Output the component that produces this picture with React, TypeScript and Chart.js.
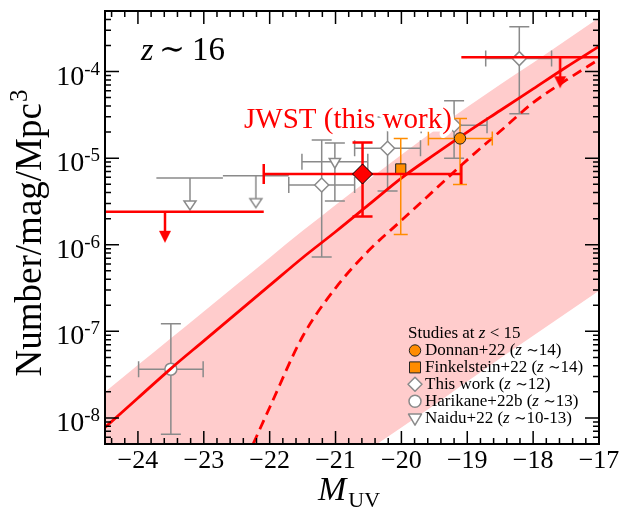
import React, { useEffect, useRef } from 'react';
import { Chart, registerables } from 'chart.js';
Chart.register(...registerables);

// ---------------- data ----------------
const X_MIN = -24.5;
const X_MAX = -17;
const Y_MIN = 5e-9;
const Y_MAX = 5e-4;

const xTickValues = [-24, -23, -22, -21, -20, -19, -18, -17];
const xTickLabels = ['−24', '−23', '−22', '−21', '−20', '−19', '−18', '−17'];
const yTickExponents = [-8, -7, -6, -5, -4];
const yTickLabels = ['-8', '-7', '-6', '-5', '-4'];

// best-fit function (solid), log10(phi)
const fitM = [-24.5, -24, -23.5, -23, -22.5, -22, -21.5, -21, -20.5, -20, -19.5, -19, -18.5, -18, -17.5, -17];
const fitLogPhi = [-8.11, -7.77, -7.43, -7.11, -6.79, -6.47, -6.15, -5.85, -5.54, -5.23, -4.96, -4.70, -4.45, -4.20, -3.95, -3.71];

// dashed function, log10(phi)
const dashM = [-22.25, -22, -21.5, -21, -20.5, -20, -19.5, -19, -18.5, -18, -17.5, -17];
const dashLogPhi = [-8.30, -7.88, -7.06, -6.50, -6.07, -5.72, -5.37, -5.02, -4.69, -4.36, -4.10, -3.86];

// shaded range, log10(phi)
const bandM = [-24.5, -24, -23.5, -23, -22.5, -22, -21.5, -21, -20.5, -20, -19.5, -19, -18.5, -18, -17.5, -17];
const bandUpperLog = [-7.70, -7.39, -7.08, -6.77, -6.46, -6.15, -5.84, -5.54, -5.25, -4.96, -4.68, -4.41, -4.15, -3.90, -3.64, -3.38];
const bandLowerLog = [-10.53, -10.26, -9.99, -9.72, -9.45, -9.18, -8.91, -8.64, -8.37, -8.11, -7.85, -7.58, -7.31, -7.05, -6.79, -6.53];

// JWST (this work) z~16
const jwstM = [-20.59];
const jwstPhi = [6.55e-6];
const jwstPhiLo = [2.12e-6];
const jwstPhiHi = [1.52e-5];
const jwstMLo = [-22.09];
const jwstMHi = [-19.09];
// JWST upper limits
const jwstUlM = [-23.59, -17.59];
const jwstUlPhi = [2.4e-6, 1.46e-4];
const jwstUlMLo = [-25.09, -19.09];
const jwstUlMHi = [-22.09, -16.09];

// Donnan+22 (z~14)
const donnanM = [-19.11];
const donnanPhi = [1.69e-5];
const donnanPhiLo = [4.95e-6];
const donnanPhiHi = [2.86e-5];
const donnanMLo = [-19.59];
const donnanMHi = [-18.62];

// Finkelstein+22 (z~14)
const finkM = [-20.01];
const finkPhi = [7.5e-6];
const finkPhiLo = [1.31e-6];
const finkPhiHi = [1.69e-5];

// This work (z~12)
const twM = [-21.21, -20.21, -19.2, -18.21];
const twPhi = [4.9e-6, 1.3e-5, 2.4e-5, 1.41e-4];
const twPhiLo = [7.2e-7, 4.16e-6, 1.0e-5, 3.26e-5];
const twPhiHi = [1.62e-5, 2.98e-5, 4.6e-5, 3.3e-4];
const twMLo = [-21.71, -20.71, -19.7, -18.72];
const twMHi = [-20.71, -19.71, -18.7, -17.72];

// Harikane+22b (z~13)
const harM = [-23.5];
const harPhi = [3.66e-8];
const harPhiLo = [6.5e-9];
const harPhiHi = [1.22e-7];
const harMLo = [-23.99];
const harMHi = [-23.01];

// Naidu+22 (z~10-13)
const naiM = [-21.01];
const naiPhi = [9.1e-6];
const naiPhiLo = [3.2e-6];
const naiPhiHi = [1.5e-5];
const naiMLo = [-21.51];
const naiMHi = [-20.51];
const naiUlM = [-23.21, -22.21];
const naiUlPhi = [5.9e-6, 6.27e-6];
const naiUlMLo = [-23.72, -22.71];
const naiUlMHi = [-22.71, -21.71];

// ---------------- styles ----------------
const SERIF = '"Liberation Serif", "Times New Roman", serif';
const MATH = '"DejaVu Serif", serif';
const RED = '#ff0000';
const GRAY = '#8a8a8a';
const ORANGE = '#ff8c00';
const PINK = '#ffcccc';

const logPts = (xs: number[], ls: number[]) => xs.map((x, i) => ({ x, y: Math.pow(10, ls[i]) }));

function errPts(xs: number[], ys: number[], lo?: number[], hi?: number[], xlo?: number[], xhi?: number[]) {
  return xs.map((x, i) => ({
    x,
    y: ys[i],
    yMin: lo ? lo[i] : undefined,
    yMax: hi ? hi[i] : undefined,
    xMin: xlo ? xlo[i] : undefined,
    xMax: xhi ? xhi[i] : undefined,
  }));
}

function arrowImage(kind: 'red' | 'gray'): HTMLCanvasElement {
  const c = document.createElement('canvas');
  if (kind === 'red') {
    const len = 31;
    c.width = 14;
    c.height = 2 * len + 2;
    const ctx = c.getContext('2d')!;
    const cx = 7;
    const y0 = len + 1;
    ctx.strokeStyle = RED;
    ctx.lineWidth = 2.5;
    ctx.beginPath();
    ctx.moveTo(cx, y0);
    ctx.lineTo(cx, y0 + len - 10);
    ctx.stroke();
    ctx.fillStyle = RED;
    ctx.beginPath();
    ctx.moveTo(cx - 6, y0 + len - 12);
    ctx.lineTo(cx + 6, y0 + len - 12);
    ctx.lineTo(cx, y0 + len);
    ctx.closePath();
    ctx.fill();
  } else {
    const len = 33;
    c.width = 16;
    c.height = 2 * len + 2;
    const ctx = c.getContext('2d')!;
    const cx = 8;
    const y0 = len + 1;
    ctx.strokeStyle = GRAY;
    ctx.lineWidth = 1.5;
    ctx.beginPath();
    ctx.moveTo(cx, y0);
    ctx.lineTo(cx, y0 + 23);
    ctx.stroke();
    ctx.fillStyle = '#fff';
    ctx.beginPath();
    ctx.moveTo(cx - 6, y0 + 23);
    ctx.lineTo(cx + 6, y0 + 23);
    ctx.lineTo(cx, y0 + len - 1);
    ctx.closePath();
    ctx.fill();
    ctx.stroke();
  }
  return c;
}

const errorBarPlugin = {
  id: 'errorBars',
  beforeDatasetDraw(chart: any, args: any) {
    const ds: any = chart.data.datasets[args.index];
    const eb = ds.errorBar;
    if (!eb) return;
    const { ctx, chartArea: a, scales } = chart;
    const xs = scales.x;
    const ys = scales.y;
    ctx.save();
    ctx.beginPath();
    ctx.rect(a.left, a.top, a.right - a.left, a.bottom - a.top);
    ctx.clip();
    ctx.strokeStyle = eb.color;
    ctx.lineWidth = eb.width;
    ctx.lineCap = 'butt';
    for (const p of ds.data) {
      const px = xs.getPixelForValue(p.x);
      const py = ys.getPixelForValue(p.y);
      ctx.beginPath();
      if (p.yMin != null && p.yMax != null) {
        const y1 = ys.getPixelForValue(p.yMin);
        const y2 = ys.getPixelForValue(p.yMax);
        ctx.moveTo(px, y1);
        ctx.lineTo(px, y2);
        if (eb.capV) {
          ctx.moveTo(px - eb.capV, y1);
          ctx.lineTo(px + eb.capV, y1);
          ctx.moveTo(px - eb.capV, y2);
          ctx.lineTo(px + eb.capV, y2);
        }
      }
      if (p.xMin != null && p.xMax != null) {
        const x1 = xs.getPixelForValue(p.xMin);
        const x2 = xs.getPixelForValue(p.xMax);
        ctx.moveTo(x1, py);
        ctx.lineTo(x2, py);
        if (eb.capH) {
          ctx.moveTo(x1, py - eb.capH);
          ctx.lineTo(x1, py + eb.capH);
          ctx.moveTo(x2, py - eb.capH);
          ctx.lineTo(x2, py + eb.capH);
        }
      }
      ctx.stroke();
    }
    ctx.restore();
  },
};

function runs(ctx: CanvasRenderingContext2D, x: number, y: number, parts: [string, string][]) {
  for (const [t, f] of parts) {
    ctx.font = f;
    ctx.fillText(t, x, y);
    x += ctx.measureText(t).width;
  }
  return x;
}

type LegendItem = { name: string; z: string; marker: string };
const legendItems: LegendItem[] = [
  { name: 'Donnan+22', z: '14', marker: 'orangeCircle' },
  { name: 'Finkelstein+22', z: '14', marker: 'orangeSquare' },
  { name: 'This work', z: '12', marker: 'grayDiamond' },
  { name: 'Harikane+22b', z: '13', marker: 'grayCircle' },
  { name: 'Naidu+22', z: '10-13', marker: 'grayTriangle' },
];

function legendMarker(ctx: CanvasRenderingContext2D, kind: string, x: number, y: number) {
  ctx.save();
  ctx.beginPath();
  if (kind === 'orangeCircle') {
    ctx.arc(x, y, 5.7, 0, Math.PI * 2);
    ctx.fillStyle = ORANGE;
    ctx.strokeStyle = '#222';
    ctx.lineWidth = 1;
  } else if (kind === 'orangeSquare') {
    ctx.rect(x - 5.5, y - 5.5, 11, 11);
    ctx.fillStyle = ORANGE;
    ctx.strokeStyle = '#222';
    ctx.lineWidth = 1;
  } else if (kind === 'grayDiamond') {
    ctx.moveTo(x - 7, y);
    ctx.lineTo(x, y - 7);
    ctx.lineTo(x + 7, y);
    ctx.lineTo(x, y + 7);
    ctx.closePath();
    ctx.fillStyle = '#fff';
    ctx.strokeStyle = GRAY;
    ctx.lineWidth = 1.5;
  } else if (kind === 'grayCircle') {
    ctx.arc(x, y, 6, 0, Math.PI * 2);
    ctx.fillStyle = '#fff';
    ctx.strokeStyle = GRAY;
    ctx.lineWidth = 1.5;
  } else {
    ctx.moveTo(x - 6.5, y - 4);
    ctx.lineTo(x + 6.5, y - 4);
    ctx.lineTo(x, y + 7);
    ctx.closePath();
    ctx.fillStyle = '#fff';
    ctx.strokeStyle = GRAY;
    ctx.lineWidth = 1.5;
  }
  ctx.fill();
  ctx.stroke();
  ctx.restore();
}

const decorPlugin = {
  id: 'decor',
  afterDatasetsDraw(chart: any) {
    const { ctx, chartArea: a, scales } = chart;
    const xs = scales.x;
    const ys = scales.y;
    ctx.save();

    // frame
    ctx.strokeStyle = '#000';
    ctx.lineWidth = 2;
    ctx.strokeRect(a.left, a.top, a.right - a.left, a.bottom - a.top);

    // ticks (inward, all four sides)
    ctx.lineWidth = 1.5;
    ctx.beginPath();
    for (let k = -122; k <= -85; k++) {
      const px = xs.getPixelForValue(k / 5);
      const L = k % 5 === 0 ? 13 : 6;
      ctx.moveTo(px, a.bottom);
      ctx.lineTo(px, a.bottom - L);
      ctx.moveTo(px, a.top);
      ctx.lineTo(px, a.top + L);
    }
    for (let e = -9; e <= -4; e++) {
      for (let m = 1; m <= 9; m++) {
        const v = m * Math.pow(10, e);
        if (v < Y_MIN * 0.999 || v > Y_MAX * 1.001) continue;
        const py = ys.getPixelForValue(v);
        const L = m === 1 ? 14 : 6;
        ctx.moveTo(a.left, py);
        ctx.lineTo(a.left + L, py);
        ctx.moveTo(a.right, py);
        ctx.lineTo(a.right - L, py);
      }
    }
    ctx.stroke();

    // x tick labels
    ctx.fillStyle = '#000';
    ctx.textAlign = 'center';
    ctx.textBaseline = 'alphabetic';
    ctx.font = `26px ${SERIF}`;
    xTickValues.forEach((v, i) => {
      ctx.fillText(xTickLabels[i], xs.getPixelForValue(v), a.bottom + 24);
    });

    // y tick labels 10^n
    ctx.textAlign = 'left';
    yTickExponents.forEach((e, i) => {
      const py = ys.getPixelForValue(Math.pow(10, e));
      ctx.font = `28px ${SERIF}`;
      const w10 = ctx.measureText('10').width;
      ctx.font = `19px ${SERIF}`;
      const wSup = ctx.measureText(yTickLabels[i]).width;
      const x0 = 100 - w10 - wSup;
      ctx.font = `28px ${SERIF}`;
      ctx.fillText('10', x0, py + 13);
      ctx.font = `19px ${SERIF}`;
      ctx.fillText(yTickLabels[i], x0 + w10, py + 3);
    });

    // y axis title
    ctx.save();
    ctx.translate(41, (a.top + a.bottom) / 2 + 6);
    ctx.rotate(-Math.PI / 2);
    ctx.font = `37px ${SERIF}`;
    const tMain = 'Number/mag/Mpc';
    const wMain = ctx.measureText(tMain).width;
    ctx.font = `25px ${SERIF}`;
    const wSup3 = ctx.measureText('3').width;
    const sx = -(wMain + wSup3) / 2;
    ctx.font = `37px ${SERIF}`;
    ctx.fillText(tMain, sx, 0);
    ctx.font = `25px ${SERIF}`;
    ctx.fillText('3', sx + wMain + 1, -14);
    ctx.restore();

    // x axis title M_UV
    ctx.font = `italic 34px ${SERIF}`;
    ctx.fillText('M', 318, 500);
    const wM = ctx.measureText('M').width;
    ctx.font = `22px ${SERIF}`;
    ctx.fillText('UV', 318 + wM + 2, 507);

    // z ~ 16
    ctx.font = `italic 32px ${SERIF}`;
    ctx.fillText('z', 141, 60);
    ctx.font = `31px ${MATH}`;
    ctx.fillText('∼', 159, 59);
    ctx.font = `33px ${SERIF}`;
    ctx.fillText('16', 192, 60);

    // JWST (this work) label with white halo
    ctx.font = `29px ${SERIF}`;
    ctx.lineJoin = 'round';
    ctx.strokeStyle = '#fff';
    ctx.lineWidth = 7;
    ctx.strokeText('JWST (this work)', 244, 128);
    ctx.fillStyle = RED;
    ctx.fillText('JWST (this work)', 244, 128);

    // legend
    ctx.fillStyle = '#000';
    const F = `17px ${SERIF}`;
    const FI = `italic 17px ${SERIF}`;
    const FM = `15px ${MATH}`;
    runs(ctx, 408, 338, [['Studies at ', F], ['z', FI], [' < ', F], ['15', F]]);
    legendItems.forEach((it, i) => {
      const by = 355 + i * 16.9;
      legendMarker(ctx, it.marker, 415, by - 4.5);
      ctx.fillStyle = '#000';
      runs(ctx, 425, by, [[it.name + ' (', F], ['z', FI], [' ', F], ['∼', FM], [it.z + ')', F]]);
    });

    ctx.restore();
  },
};

export default function App() {
  const ref = useRef<HTMLCanvasElement>(null);
  useEffect(() => {
    const redArrow = arrowImage('red');
    const grayArrow = arrowImage('gray');
    const chart = new Chart(ref.current!, {
      type: 'line',
      data: {
        datasets: [
          {
            label: 'band upper',
            data: logPts(bandM, bandUpperLog),
            borderColor: 'transparent',
            borderWidth: 0,
            pointRadius: 0,
            fill: '+1',
            backgroundColor: PINK,
            cubicInterpolationMode: 'monotone',
            order: 100,
          },
          {
            label: 'band lower',
            data: logPts(bandM, bandLowerLog),
            borderColor: 'transparent',
            borderWidth: 0,
            pointRadius: 0,
            fill: false,
            cubicInterpolationMode: 'monotone',
            order: 99,
          },
          {
            label: 'Naidu+22 limits',
            data: errPts(naiUlM, naiUlPhi, undefined, undefined, naiUlMLo, naiUlMHi),
            showLine: false,
            pointStyle: grayArrow,
            pointRadius: 1,
            errorBar: { color: GRAY, width: 1.5, capV: 0, capH: 0 },
            order: 60,
          } as any,
          {
            label: 'Harikane+22b',
            data: errPts(harM, harPhi, harPhiLo, harPhiHi, harMLo, harMHi),
            showLine: false,
            pointStyle: 'circle',
            pointRadius: 6,
            pointBackgroundColor: '#fff',
            pointBorderColor: GRAY,
            pointBorderWidth: 1.5,
            errorBar: { color: GRAY, width: 1.5, capV: 10, capH: 8 },
            order: 59,
          } as any,
          {
            label: 'This work z~12',
            data: errPts(twM, twPhi, twPhiLo, twPhiHi, twMLo, twMHi),
            showLine: false,
            pointStyle: 'rectRot',
            pointRadius: 7,
            pointBackgroundColor: '#fff',
            pointBorderColor: GRAY,
            pointBorderWidth: 1.5,
            errorBar: { color: GRAY, width: 1.5, capV: 10, capH: 8 },
            order: 58,
          } as any,
          {
            label: 'Naidu+22',
            data: errPts(naiM, naiPhi, naiPhiLo, naiPhiHi, naiMLo, naiMHi),
            showLine: false,
            pointStyle: 'triangle',
            rotation: 180,
            pointRadius: 6.5,
            pointBackgroundColor: '#fff',
            pointBorderColor: GRAY,
            pointBorderWidth: 1.5,
            errorBar: { color: GRAY, width: 1.5, capV: 10, capH: 8 },
            order: 57,
          } as any,
          {
            label: 'fit',
            data: logPts(fitM, fitLogPhi),
            borderColor: RED,
            borderWidth: 2.8,
            pointRadius: 0,
            fill: false,
            cubicInterpolationMode: 'monotone',
            order: 40,
          },
          {
            label: 'fit dashed',
            data: logPts(dashM, dashLogPhi),
            borderColor: RED,
            borderWidth: 2.8,
            borderDash: [10, 6],
            pointRadius: 0,
            fill: false,
            cubicInterpolationMode: 'monotone',
            order: 39,
          },
          {
            label: 'Finkelstein+22',
            data: errPts(finkM, finkPhi, finkPhiLo, finkPhiHi),
            showLine: false,
            pointStyle: 'rect',
            pointRadius: 7.2,
            pointBackgroundColor: ORANGE,
            pointBorderColor: '#222',
            pointBorderWidth: 1,
            errorBar: { color: ORANGE, width: 1.5, capV: 7, capH: 7 },
            order: 30,
          } as any,
          {
            label: 'Donnan+22',
            data: errPts(donnanM, donnanPhi, donnanPhiLo, donnanPhiHi, donnanMLo, donnanMHi),
            showLine: false,
            pointStyle: 'circle',
            pointRadius: 5.7,
            pointBackgroundColor: ORANGE,
            pointBorderColor: '#222',
            pointBorderWidth: 1,
            errorBar: { color: ORANGE, width: 1.5, capV: 7, capH: 7 },
            order: 29,
          } as any,
          {
            label: 'JWST limits',
            data: errPts(jwstUlM, jwstUlPhi, undefined, undefined, jwstUlMLo, jwstUlMHi),
            showLine: false,
            pointStyle: redArrow,
            pointRadius: 1,
            errorBar: { color: RED, width: 2.5, capV: 0, capH: 0 },
            order: 20,
          } as any,
          {
            label: 'JWST (this work)',
            data: errPts(jwstM, jwstPhi, jwstPhiLo, jwstPhiHi, jwstMLo, jwstMHi),
            showLine: false,
            pointStyle: 'rectRot',
            pointRadius: 10,
            pointBackgroundColor: RED,
            pointBorderColor: '#000',
            pointBorderWidth: 1,
            errorBar: { color: RED, width: 2.5, capV: 10, capH: 10 },
            order: 19,
          } as any,
        ],
      },
      options: {
        responsive: false,
        animation: false,
        devicePixelRatio: 1,
        events: [],
        layout: { padding: { left: 105, right: 23, top: 6, bottom: 64 } },
        scales: {
          x: { type: 'linear', min: X_MIN, max: X_MAX, display: false },
          y: { type: 'logarithmic', min: Y_MIN, max: Y_MAX, display: false },
        },
        plugins: {
          legend: { display: false },
          tooltip: { enabled: false },
          filler: { drawTime: 'beforeDatasetDraw' } as any,
        },
      },
      plugins: [errorBarPlugin, decorPlugin],
    } as any);
    return () => chart.destroy();
  }, []);

  return (
    <div style={{ position: 'fixed', left: 0, top: 0, width: 622, height: 508, background: '#fff' }}>
      <canvas ref={ref} width={622} height={508} style={{ display: 'block', width: 622, height: 508 }} />
    </div>
  );
}
